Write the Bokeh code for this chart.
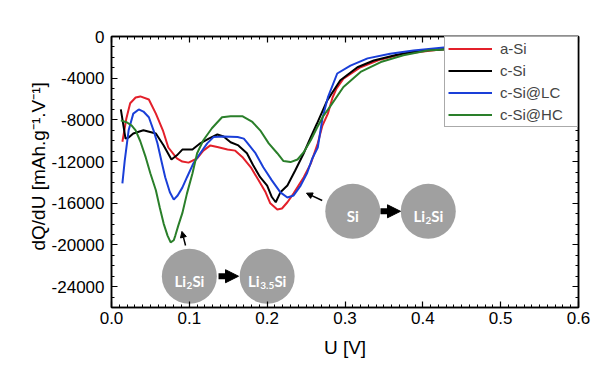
from bokeh.plotting import figure
from bokeh.models import (LinearAxis, FixedTicker, Range1d, Legend, LegendItem,
                          Arrow, NormalHead, Label, Title)
from bokeh.embed import file_html
from bokeh.resources import INLINE

# ---------------- data ----------------
asi_u = [0.014, 0.019, 0.024, 0.031, 0.037, 0.048, 0.057, 0.066, 0.073, 0.084, 0.091, 0.099, 0.110, 0.118,
         0.127, 0.136, 0.149, 0.159, 0.168, 0.179, 0.189, 0.198, 0.204, 0.213, 0.219, 0.226, 0.234, 0.247,
         0.256, 0.265, 0.271, 0.278, 0.284, 0.289, 0.298, 0.320, 0.346, 0.375, 0.423, 0.474, 0.526, 0.600]
asi_q = [-10100, -7900, -6400, -5850, -5750, -6050, -7400, -9000, -10650, -11700, -12000, -12100, -11700, -10950,
         -10450, -10600, -10850, -10950, -11550, -12550, -13800, -14950, -16000, -16600, -16500, -15900, -15050, -13500,
         -12200, -10250, -8550, -7400, -5850, -5000, -4050, -2950, -2200, -1650, -1250, -1050, -950, -850]

csi_u = [0.012, 0.018, 0.022, 0.028, 0.041, 0.057, 0.067, 0.077, 0.084, 0.091, 0.104, 0.114, 0.125, 0.136,
         0.144, 0.153, 0.163, 0.174, 0.182, 0.191, 0.200, 0.206, 0.211, 0.217, 0.226, 0.236, 0.247, 0.256,
         0.264, 0.277, 0.294, 0.316, 0.337, 0.367, 0.397, 0.448, 0.526, 0.600]
csi_q = [-7000, -9800, -9700, -9300, -9000, -9300, -10450, -11800, -11400, -10850, -10850, -10250, -9800, -9400,
         -9600, -10150, -10450, -11200, -12350, -13500, -14300, -15400, -15900, -14950, -14300, -12850, -11200, -9650,
         -8350, -6150, -4200, -2950, -2300, -1750, -1350, -1150, -950, -850]

lc_u = [0.014, 0.017, 0.022, 0.028, 0.035, 0.041, 0.048, 0.054, 0.059, 0.064, 0.069, 0.075, 0.080, 0.085,
        0.091, 0.097, 0.105, 0.114, 0.123, 0.131, 0.144, 0.162, 0.170, 0.174, 0.185, 0.195, 0.206, 0.217,
        0.226, 0.234, 0.243, 0.251, 0.258, 0.265, 0.271, 0.278, 0.290, 0.307, 0.329, 0.358, 0.388, 0.427,
        0.500, 0.600]
lc_q = [-14100, -11900, -9000, -7400, -7000, -7200, -7750, -9000, -10250, -11900, -13500, -14950, -15650, -15250,
        -14500, -13500, -12200, -11200, -10250, -9650, -9600, -9650, -9800, -10150, -11200, -12550, -13800, -14950,
        -15450, -15250, -14300, -13150, -11700, -10650, -7850, -5850, -3550, -2800, -2100, -1650, -1350, -1050,
        -950, -850]

hc_u = [0.012, 0.020, 0.026, 0.031, 0.037, 0.044, 0.050, 0.057, 0.062, 0.067, 0.072, 0.076, 0.080, 0.082,
        0.086, 0.091, 0.097, 0.104, 0.110, 0.118, 0.129, 0.142, 0.153, 0.168, 0.181, 0.191, 0.202, 0.213,
        0.221, 0.230, 0.239, 0.247, 0.256, 0.264, 0.272, 0.281, 0.298, 0.320, 0.346, 0.375, 0.406, 0.460,
        0.526, 0.600]
hc_q = [-8050, -8250, -8550, -9000, -10050, -11600, -13150, -14750, -16400, -17950, -19100, -19750, -19550, -19100,
        -18100, -16950, -15050, -13150, -11200, -9950, -8800, -7750, -7650, -7650, -8200, -9000, -10250, -11200,
        -11950, -12050, -11800, -11100, -9950, -8750, -7650, -6700, -4850, -3400, -2450, -1800, -1350, -1100,
        -950, -850]

series_names = ["a-Si", "c-Si", "c-Si@LC", "c-Si@HC"]

x_ticks = [0.0, 0.1, 0.2, 0.3, 0.4, 0.5, 0.6]
x_tick_labels = ["0.0", "0.1", "0.2", "0.3", "0.4", "0.5", "0.6"]
y_ticks = [0, -4000, -8000, -12000, -16000, -20000, -24000]
y_tick_labels = ["0", "-4000", "-8000", "-12000", "-16000", "-20000", "-24000"]

# ---------------- styling ----------------
colors = ["#e3202a", "#000000", "#1a3fd8", "#2a7f2a"]
FONT = "Liberation Sans"

p = figure(width=600, height=367, output_backend="svg", toolbar_location=None,
           x_range=Range1d(0, 0.6), y_range=Range1d(-26000, 0),
           min_border_left=111, min_border_right=22, min_border_top=36, min_border_bottom=60)
p.xgrid.visible = False
p.ygrid.visible = False
p.outline_line_color = "black"
p.outline_line_width = 1.5
p.background_fill_color = "white"
p.border_fill_color = "white"

x_minor = [round(i * 0.01, 2) for i in range(61)]
y_minor = list(range(-26000, 1, 1000))


def style_axis(ax, ticks, minor, labels, show_labels):
    ax.ticker = FixedTicker(ticks=ticks, minor_ticks=minor)
    ax.major_label_overrides = {t: (l if show_labels else "") for t, l in zip(ticks, labels)}
    ax.major_tick_in = 6
    ax.major_tick_out = 0
    ax.minor_tick_in = 3
    ax.minor_tick_out = 0
    ax.axis_line_width = 1.5
    ax.axis_line_color = "black"
    ax.major_tick_line_color = "black"
    ax.minor_tick_line_color = "black"
    ax.major_tick_line_width = 1.2
    ax.minor_tick_line_width = 1.0
    ax.major_label_text_font = FONT
    ax.major_label_text_font_size = "17px"
    ax.major_label_text_color = "black"
    ax.axis_label_text_font = FONT
    ax.axis_label_text_font_style = "normal"
    ax.axis_label_text_font_size = "19px"
    ax.axis_label_text_color = "black"


xa = p.xaxis[0]
style_axis(xa, x_ticks, x_minor, x_tick_labels, True)
xa.axis_label = "U [V]"
xa.major_label_standoff = 4
xa.axis_label_standoff = 10

ya = p.yaxis[0]
style_axis(ya, y_ticks, y_minor, y_tick_labels, True)
ya.major_label_standoff = 7

# y-axis title as a side title on the left, anchored at its start (from the bottom)
ytitle = Title(text="dQ/dU [mAh.g\u207b\u00b9.V\u207b\u00b9]", align="left",
               text_font=FONT, text_font_size="19px", text_font_style="normal",
               text_color="black", offset=57, standoff=0)
p.add_layout(ytitle, "left")

top_ax = LinearAxis()
style_axis(top_ax, x_ticks, x_minor, x_tick_labels, False)
top_ax.major_label_standoff = 0
p.add_layout(top_ax, "above")

right_ax = LinearAxis()
style_axis(right_ax, y_ticks, y_minor, y_tick_labels, False)
right_ax.major_label_standoff = 0
p.add_layout(right_ax, "right")

# ---------------- curves ----------------
renderers = []
for u, q, c in zip([asi_u, csi_u, lc_u, hc_u], [asi_q, csi_q, lc_q, hc_q], colors):
    renderers.append(p.line(u, q, line_color=c, line_width=2))

legend = Legend(items=[LegendItem(label=n, renderers=[r]) for n, r in zip(series_names, renderers)],
                location="top_right")
legend.margin = 0
legend.padding = 3
legend.spacing = 5
legend.glyph_width = 44
legend.glyph_height = 13
legend.label_height = 13
legend.label_width = 74
legend.label_standoff = 8
legend.label_text_font = FONT
legend.label_text_font_size = "15px"
legend.border_line_color = "#555555"
legend.border_line_width = 1
legend.background_fill_color = "white"
legend.background_fill_alpha = 1.0
p.add_layout(legend)

# ---------------- schematic annotations ----------------
circle_x = [0.100, 0.200, 0.310, 0.407]
circle_y = [-23000, -23000, -16770, -16770]
p.scatter(circle_x, circle_y, marker="circle", size=55, fill_color="#a0a0a0", line_color=None)

CW = {'L': 0.55, 'i': 0.26, 'S': 0.53, '2': 0.58, '3': 0.58, '5': 0.58, '.': 0.26}
MAIN, SUB = 15, 10


def chem_label(xc, yc, parts):
    widths = [sum(CW[ch] for ch in t) * (SUB if sub else MAIN) for t, sub in parts]
    start = -sum(widths) / 2.0
    for (t, sub), w in zip(parts, widths):
        p.add_layout(Label(x=xc, y=yc, x_offset=start, y_offset=(-9 if sub else -5), text=t,
                           text_align="left", text_baseline="alphabetic", text_color="white",
                           text_font="Lato", text_font_style="bold",
                           text_font_size=f"{SUB if sub else MAIN}px"))
        start += w


chem_label(circle_x[0], circle_y[0], [("Li", False), ("2", True), ("Si", False)])
chem_label(circle_x[1], circle_y[1], [("Li", False), ("3.5", True), ("Si", False)])
chem_label(circle_x[2], circle_y[2], [("Si", False)])
chem_label(circle_x[3], circle_y[3], [("Li", False), ("2", True), ("Si", False)])

# big block arrows between circles
for xs, xe, yv in [(0.1375, 0.1632, -23000), (0.3456, 0.3713, -16770)]:
    p.add_layout(Arrow(end=NormalHead(size=13, fill_color="black", line_color="black"),
                       x_start=xs, y_start=yv, x_end=xe, y_end=yv,
                       line_color="black", line_width=6))

# small pointer arrows
for xs, ys, xe, ye in [(0.0951, -20050, 0.0905, -18700), (0.2707, -15730, 0.2505, -15030)]:
    p.add_layout(Arrow(end=NormalHead(size=6, fill_color="black", line_color="black"),
                       x_start=xs, y_start=ys, x_end=xe, y_end=ye,
                       line_color="black", line_width=1.5))

open("out.html", "w").write(file_html(p, INLINE))
